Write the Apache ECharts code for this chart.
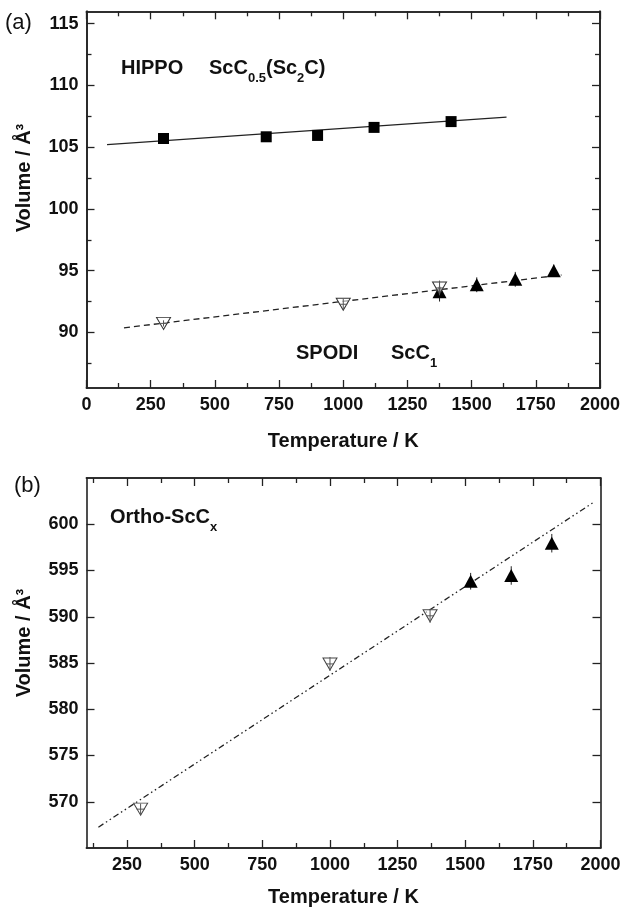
<!DOCTYPE html>
<html>
<head>
<meta charset="utf-8">
<script src="https://cdn.jsdelivr.net/npm/echarts@6/dist/echarts.min.js"></script>
<style>
html,body{margin:0;padding:0;background:#fff;}
#c{width:625px;height:909px;}
</style>
</head>
<body>
<div id="c"></div>
<script>
// ---- Panel (a) data ----
const hippoT = [300, 700, 900, 1120, 1420];
const hippoV = [105.7, 105.84, 105.95, 106.6, 107.07];
const hippoFitT = [80, 1636];
const hippoFitV = [105.2, 107.43];

const spodiOpenT = [300, 1000, 1375];
const spodiOpenV = [90.73, 92.28, 93.6];
const spodiOpenErr = [0.25, 0.45, 0.6];
const spodiFillT = [1375, 1520, 1670, 1820];
const spodiFillV = [93.3, 93.86, 94.3, 95.0];
const spodiFillErr = [0.8, 0.6, 0.6, 0.5];
const spodiFitT = [146, 1850];
const spodiFitV = [90.37, 94.65];

// ---- Panel (b) data ----
const orthoOpenT = [300, 1000, 1370];
const orthoOpenV = [569.2, 584.9, 590.1];
const orthoOpenErr = [0.6, 0.75, 0.75];
const orthoFillT = [1520, 1670, 1820];
const orthoFillV = [593.84, 594.46, 597.95];
const orthoFillErr = [0.9, 1.0, 1.0];
const orthoFitT = [144, 1976];
const orthoFitV = [567.25, 602.4];

// ---- Tick values ----
const xMajorA = [0, 250, 500, 750, 1000, 1250, 1500, 1750, 2000];
const xMinorA = [125, 375, 625, 875, 1125, 1375, 1625, 1875];
const yMajorA = [90, 95, 100, 105, 110, 115];
const yMinorA = [87.5, 92.5, 97.5, 102.5, 107.5, 112.5];
const xMajorB = [250, 500, 750, 1000, 1250, 1500, 1750, 2000];
const xMinorB = [125, 375, 625, 875, 1125, 1375, 1625, 1875];
const yMajorB = [570, 575, 580, 585, 590, 595, 600];

const zip = (a, b, c) => a.map((v, i) => c ? [v, b[i], c[i]] : [v, b[i]]);

const AX = '#222';
const FONT = '"Liberation Sans", Arial, sans-serif';
const lblStyle = {fontFamily: FONT, fontWeight: 'bold', fontSize: 18, color: '#111', formatter: v => String(v)};

function xAx(grid, pos, min, max, vals, major, withLabel, name, nameGap) {
  return {
    type: 'value', gridIndex: grid, position: pos, min: min, max: max,
    axisLine: {show: true, onZero: false, lineStyle: {color: AX, width: 1.6}},
    axisTick: {show: true, inside: true, length: major ? 8 : 5, customValues: vals, lineStyle: {color: AX, width: 1.3}},
    axisLabel: withLabel ? Object.assign({show: true, customValues: vals, margin: 8}, lblStyle) : {show: false},
    splitLine: {show: false},
    name: name || '', nameLocation: 'middle', nameGap: nameGap || 0,
    nameTextStyle: {fontFamily: FONT, fontWeight: 'bold', fontSize: 20, color: '#111'}
  };
}
function yAx(grid, pos, min, max, vals, major, withLabel) {
  return {
    type: 'value', gridIndex: grid, position: pos, min: min, max: max,
    axisLine: {show: true, onZero: false, lineStyle: {color: AX, width: 1.6}},
    axisTick: {show: true, inside: true, length: major ? 8 : 5, customValues: vals, lineStyle: {color: AX, width: 1.3}},
    axisLabel: withLabel ? Object.assign({show: true, customValues: vals, margin: 8}, lblStyle) : {show: false},
    splitLine: {show: false}
  };
}

function errRender(open) {
  return function (params, api) {
    const x = api.value(0), y = api.value(1), e = api.value(2);
    const p1 = api.coord([x, y + e]);
    const p2 = api.coord([x, y - e]);
    const c = api.coord([x, y]);
    const col = open ? '#555' : '#222';
    const children = [{
      type: 'line', shape: {x1: p1[0], y1: p1[1], x2: p2[0], y2: p2[1]},
      style: {stroke: col, lineWidth: 1}
    }];
    if (open) {
      children.push({type: 'line', shape: {x1: c[0] - 4, y1: c[1], x2: c[0] + 4, y2: c[1]}, style: {stroke: col, lineWidth: 1}});
    }
    return {type: 'group', children: children};
  };
}

const chart = echarts.init(document.getElementById('c'), null, {renderer: 'canvas'});

const subRich = {
  b: {fontFamily: FONT, fontWeight: 'bold', fontSize: 20, fill: '#111'},
  s: {fontFamily: FONT, fontWeight: 'bold', fontSize: 13, lineHeight: 13, padding: [20, 0, 0, 0], fill: '#111'}
};

const option = {
  backgroundColor: '#fff',
  animation: false,
  grid: [
    {left: 86.5, top: 11.3, right: 25, bottom: 521},
    {left: 86.5, top: 478, right: 24.5, bottom: 61}
  ],
  xAxis: [
    xAx(0, 'bottom', 0, 2000, xMajorA, true, true, 'Temperature / K', 43),
    xAx(0, 'bottom', 0, 2000, xMinorA, false, false),
    xAx(0, 'top', 0, 2000, xMajorA, true, false),
    xAx(0, 'top', 0, 2000, xMinorA, false, false),
    xAx(1, 'bottom', 100, 2000, xMajorB, true, true, 'Temperature / K', 39),
    xAx(1, 'bottom', 100, 2000, xMinorB, false, false),
    xAx(1, 'top', 100, 2000, xMajorB, true, false),
    xAx(1, 'top', 100, 2000, xMinorB, false, false)
  ],
  yAxis: [
    yAx(0, 'left', 85.5, 116, yMajorA, true, true),
    yAx(0, 'left', 85.5, 116, yMinorA, false, false),
    yAx(0, 'right', 85.5, 116, yMajorA, true, false),
    yAx(0, 'right', 85.5, 116, yMinorA, false, false),
    yAx(1, 'left', 565, 605, yMajorB, true, true),
    yAx(1, 'right', 565, 605, yMajorB, true, false)
  ],
  series: [
    {type: 'line', xAxisIndex: 0, yAxisIndex: 0, data: zip(hippoFitT, hippoFitV), symbol: 'none',
      lineStyle: {color: '#222', width: 1.3}, silent: true, z: 2},
    {type: 'scatter', xAxisIndex: 0, yAxisIndex: 0, data: zip(hippoT, hippoV), symbol: 'rect', symbolSize: 11,
      itemStyle: {color: '#000', opacity: 1}, z: 3},
    {type: 'line', xAxisIndex: 0, yAxisIndex: 0, data: zip(spodiFitT, spodiFitV), symbol: 'none',
      lineStyle: {color: '#222', width: 1.3, type: [6, 4]}, silent: true, z: 2},
    {type: 'custom', xAxisIndex: 0, yAxisIndex: 0, data: zip(spodiFillT, spodiFillV, spodiFillErr), renderItem: errRender(false), z: 3},
    {type: 'scatter', xAxisIndex: 0, yAxisIndex: 0, data: zip(spodiFillT, spodiFillV), symbol: 'triangle', symbolSize: [14, 13],
      itemStyle: {color: '#000', opacity: 1}, z: 4},
    {type: 'scatter', xAxisIndex: 0, yAxisIndex: 0, data: zip(spodiOpenT, spodiOpenV), symbol: 'triangle', symbolRotate: 180, symbolSize: [14, 12],
      itemStyle: {color: 'rgba(255,255,255,0.6)', borderColor: '#333', borderWidth: 1, opacity: 1}, z: 5},
    {type: 'custom', xAxisIndex: 0, yAxisIndex: 0, data: zip(spodiOpenT, spodiOpenV, spodiOpenErr), renderItem: errRender(true), z: 6},

    {type: 'line', xAxisIndex: 4, yAxisIndex: 4, data: zip(orthoFitT, orthoFitV), symbol: 'none',
      lineStyle: {color: '#222', width: 1.3, type: [6, 3, 1.5, 3, 1.5, 3]}, silent: true, z: 2},
    {type: 'custom', xAxisIndex: 4, yAxisIndex: 4, data: zip(orthoFillT, orthoFillV, orthoFillErr), renderItem: errRender(false), z: 3},
    {type: 'scatter', xAxisIndex: 4, yAxisIndex: 4, data: zip(orthoFillT, orthoFillV), symbol: 'triangle', symbolSize: [14, 13],
      itemStyle: {color: '#000', opacity: 1}, z: 4},
    {type: 'scatter', xAxisIndex: 4, yAxisIndex: 4, data: zip(orthoOpenT, orthoOpenV), symbol: 'triangle', symbolRotate: 180, symbolSize: [14, 12],
      itemStyle: {color: 'rgba(255,255,255,0.6)', borderColor: '#444', borderWidth: 1, opacity: 1}, z: 5},
    {type: 'custom', xAxisIndex: 4, yAxisIndex: 4, data: zip(orthoOpenT, orthoOpenV, orthoOpenErr), renderItem: errRender(true), z: 6}
  ],
  graphic: [
    {type: 'text', left: 5, top: 12, style: {text: '(a)', font: '22px ' + FONT, fill: '#111'}},
    {type: 'text', left: 14, top: 475, style: {text: '(b)', font: '22px ' + FONT, fill: '#111'}},
    {type: 'text', x: 24, y: 178, rotation: Math.PI / 2,
      style: {text: 'Volume / Å³', font: 'bold 20px ' + FONT, fill: '#111', align: 'center', verticalAlign: 'middle'}},
    {type: 'text', x: 24, y: 643, rotation: Math.PI / 2,
      style: {text: 'Volume / Å³', font: 'bold 20px ' + FONT, fill: '#111', align: 'center', verticalAlign: 'middle'}},
    {type: 'text', x: 121, y: 68, style: {text: 'HIPPO', font: 'bold 20px ' + FONT, fill: '#111', verticalAlign: 'middle'}},
    {type: 'text', x: 209, y: 68, style: {text: '{b|ScC}{s|0.5}{b|(Sc}{s|2}{b|C)}', verticalAlign: 'middle', fill: '#111', rich: subRich}},
    {type: 'text', x: 296, y: 353, style: {text: 'SPODI', font: 'bold 20px ' + FONT, fill: '#111', verticalAlign: 'middle'}},
    {type: 'text', x: 391, y: 353, style: {text: '{b|ScC}{s|1}', verticalAlign: 'middle', fill: '#111', rich: subRich}},
    {type: 'text', x: 110, y: 517, style: {text: '{b|Ortho-ScC}{s|x}', verticalAlign: 'middle', fill: '#111', rich: subRich}}
  ]
};
chart.setOption(option);
</script>
</body>
</html>
